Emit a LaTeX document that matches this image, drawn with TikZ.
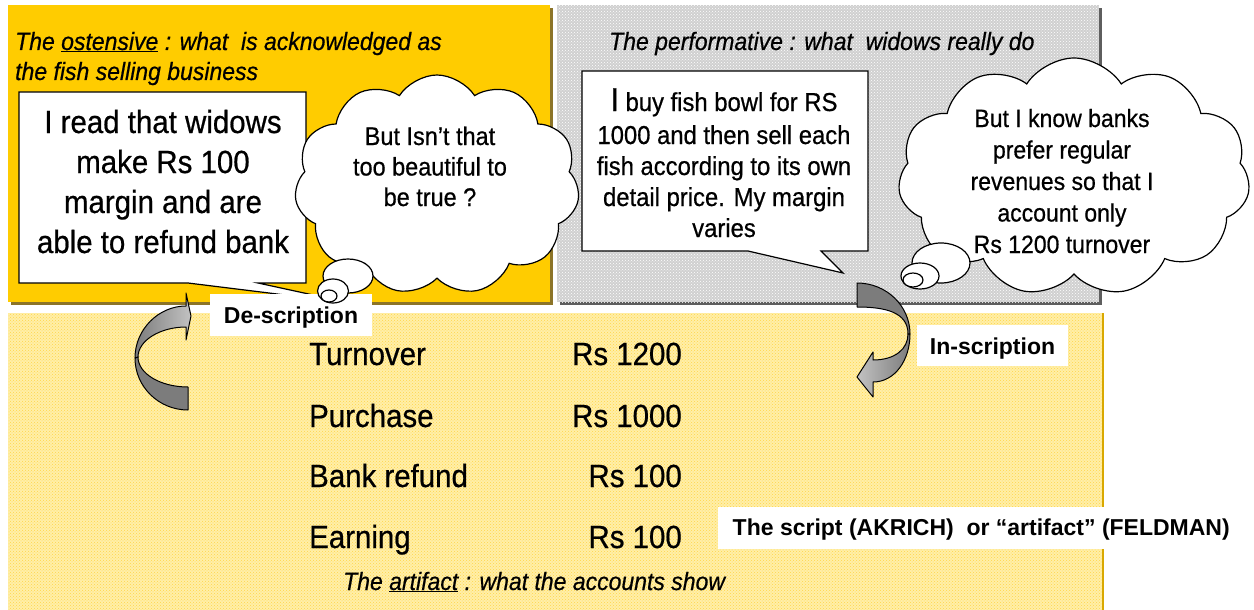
\documentclass[tikz,border=0pt]{standalone}
\usepackage{fontspec}
\setmainfont{Liberation Sans}
\newfontfamily\nf[FakeStretch=0.92,FakeBold=0.6]{Liberation Sans}
\usetikzlibrary{shapes.symbols,patterns}
\definecolor{ylw}{HTML}{FFCC00}
\definecolor{paleY}{HTML}{FFEFA8}
\definecolor{dotY}{HTML}{FFD54A}
\definecolor{grayF}{HTML}{D0D0D0}
\definecolor{ylwSh}{HTML}{8C7428}
\definecolor{graySh}{HTML}{5E5E5E}
\definecolor{arrowL}{HTML}{A8A8A8}
\definecolor{arrowD}{HTML}{7C7C7C}
\definecolor{edgeY}{HTML}{D9A800}
\begin{document}
\begin{tikzpicture}[x=1pt,y=-1pt,
  outl/.style={draw=black, line width=1.2pt},
  callout/.style={outl, fill=white},
  thought/.style={cloud, cloud puffs=11, cloud puff arc=115, aspect=1.3,
     draw=black, fill=white, line width=1.2pt, inner sep=0pt},
  bubble/.style={outl, fill=white},
  ttl/.style={font=\nf\itshape\fontsize{25}{30}\selectfont, inner sep=0pt, align=left},
  said/.style={inner sep=0pt, align=center},
  tab/.style={font=\nf\fontsize{32}{38}\selectfont, inner sep=0pt},
  lbl/.style={fill=white, inner sep=0pt, text height=17pt, text depth=0pt,
     font=\bfseries\fontsize{23}{27}\selectfont},
  arrw/.style={draw=black, line width=1pt, line join=round}
]
\useasboundingbox (0,0) rectangle (1254,610);
\fill[white] (0,0) rectangle (1254,610);

% ---- panels ----
\fill[ylwSh] (11,8) rectangle (553,305);
\fill[ylw] (8,5) rectangle (550,302);
\fill[graySh] (560,8) rectangle (1102,305);
\fill[grayF] (557,5) rectangle (1099,302);
\fill[pattern=crosshatch dots, pattern color=white] (557,5) rectangle (1099,302);
\fill[paleY] (8,313) rectangle (1103,610);
\fill[pattern=crosshatch dots, pattern color=dotY] (8,313) rectangle (1103,610);
\draw[edgeY, line width=1.5pt] (1103,313) -- (1103,610);

% ---- titles (anchor base = last line's baseline) ----
\node[ttl, anchor=base west] (t1) at (15,80)
  {The \underline{ostensive} : what\ \ is acknowledged as\\the fish selling business};
\node[ttl, anchor=base west] (t2) at (609,50)
  {The performative : what\ \ widows really do};
\node[ttl, anchor=base west] (t3) at (343,590)
  {The \underline{artifact} : what the accounts show};

% ---- speech box 1 ----
\draw[callout] (19,92) -- (306,92) -- (306,283) -- (258,283) -- (350,303)
  -- (188,283) -- (19,283) -- cycle;
\node[said, anchor=base, font=\nf\fontsize{32}{40}\selectfont] (s1) at (163,253)
  {I read that widows\\make Rs 100\\margin and are\\able to refund bank};

% ---- speech box 2 ----
\draw[callout] (582,71) -- (868,71) -- (868,251) -- (821,251) -- (843,273)
  -- (748,251) -- (582,251) -- cycle;
\node[said, anchor=base, font=\nf\fontsize{25.9}{31}\selectfont] (s2) at (724,237)
  {{\fontsize{33}{33}\selectfont I} buy fish bowl for RS\\[2pt]1000 and then sell each\\fish according to its own\\detail price. My margin\\varies};

% ---- cloud 1 ----
\node[thought, minimum width=285pt, minimum height=220pt] (c1) at (437,185) {};
\node[said, anchor=base, font=\nf\fontsize{25.5}{30.5}\selectfont] (c1t) at (430,206)
  {But Isn’t that\\too beautiful to\\be true ?};

% ---- cloud 2 ----
\node[thought, minimum width=352pt, minimum height=238pt] (c2) at (1074,177) {};
\node[said, anchor=base, font=\nf\fontsize{25}{31.5}\selectfont] (c2t) at (1062,253)
  {But I know banks\\prefer regular\\revenues so that I\\account only\\Rs 1200 turnover};

% ---- labels ----
\node[lbl, minimum width=162pt, minimum height=42pt] (desc) at (291,314.5) {De-scription};
\node[lbl, minimum width=151pt, minimum height=41pt] (insc) at (992.5,345.5) {In-scription};
\node[fill=white, inner sep=0pt, minimum width=514pt, minimum height=42pt] (scrbox) at (975,528) {};
\node[inner sep=0pt, anchor=base east, font=\bfseries\fontsize{23}{27}\selectfont] (scr) at (1230,535)
  {The script (AKRICH)\ \ or “artifact” (FELDMAN)};

% ---- thought bubbles ----
\draw[bubble] (348,276) ellipse [x radius=25, y radius=17];
\draw[bubble] (333,291) ellipse [x radius=15.5, y radius=12];
\draw[bubble] (329,296) ellipse [x radius=8, y radius=6];
\draw[bubble] (941,263) ellipse [x radius=29, y radius=20];
\draw[bubble] (920,276) ellipse [x radius=19, y radius=13];
\draw[bubble] (913,280) ellipse [x radius=10, y radius=7];

% ---- left curved arrow (De-scription) ----
\draw[arrw, fill=arrowD] (188,410) .. controls (158.7,410) and (135,386.7) .. (135,358)
  -- (138,357) .. controls (138,373.6) and (160.4,387) .. (188,387) -- cycle;
\draw[arrw, left color=arrowD, right color=arrowL!70!white] (135,358) .. controls (135,329.3) and (158.7,306) .. (186,306)
  -- (186,293) -- (191,316) -- (186,340) -- (186,327)
  .. controls (160.4,327) and (138,340.4) .. (138,357) -- cycle;

% ---- right curved arrow (In-scription) ----
\draw[arrw, fill=arrowD] (857,283) .. controls (886.3,283) and (910,305.8) .. (910,334)
  -- (908,334) .. controls (908,312) and (885,307) .. (857,307) -- cycle;
\draw[arrw, left color=arrowL!70!white, right color=arrowD] (910,334) .. controls (910,360) and (895,382) .. (873,382)
  -- (873,397) -- (857,377) -- (873,352) -- (873,360)
  .. controls (895,360) and (908,349) .. (908,334) -- cycle;

% ---- accounts ----
\node[tab, anchor=base west] (l1) at (309,365) {Turnover};
\node[tab, anchor=base east] (v1) at (682,365) {Rs 1200};
\node[tab, anchor=base west] (l2) at (309,427) {Purchase};
\node[tab, anchor=base east] (v2) at (682,427) {Rs 1000};
\node[tab, anchor=base west] (l3) at (309,487) {Bank refund};
\node[tab, anchor=base east] (v3) at (682,487) {Rs 100};
\node[tab, anchor=base west] (l4) at (309,548) {Earning};
\node[tab, anchor=base east] (v4) at (682,548) {Rs 100};
\end{tikzpicture}
\end{document}
